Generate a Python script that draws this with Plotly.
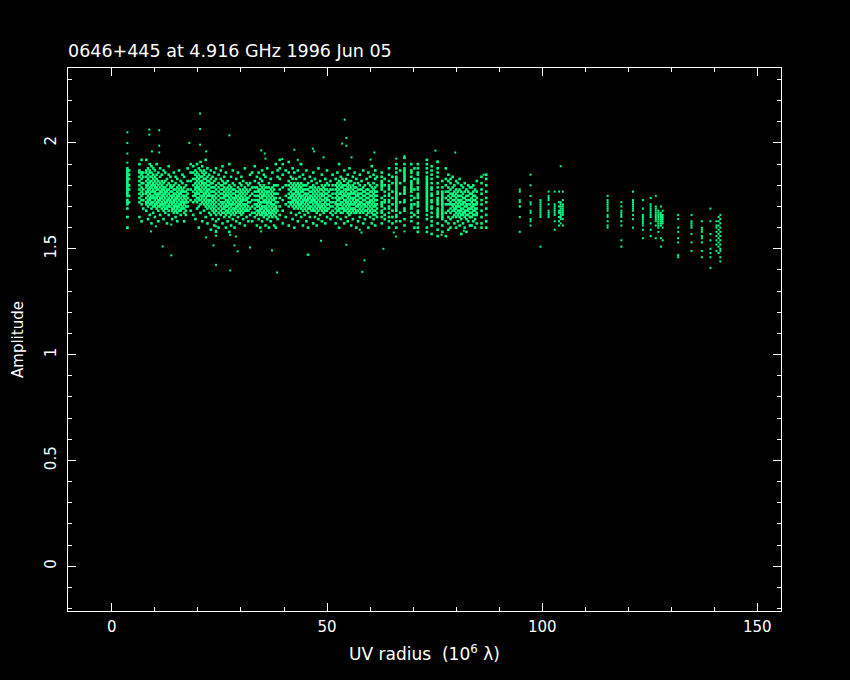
import plotly.graph_objects as go

TITLE = "0646+445 at 4.916 GHz 1996 Jun 05"
X_LABEL = "UV radius  (10<sup>6</sup> λ)"
Y_LABEL = "Amplitude"
X_TICKS = [0, 50, 100, 150]
Y_TICKS = [0, 0.5, 1, 1.5, 2]
Y_TICK_TEXT = ["0", "0.5", "1", "1.5", "2"]

# visible vertical scan tracks: UV radius of each track
uv_columns = [
 3.6,4.0,6.4,6.9,7.3,8.0,8.4,8.8,9.2,9.6,10.0,10.4,10.8,11.2,11.6,12.0,12.4,12.8,13.2,13.6,14.0,14.4,14.8,15.2,15.6,16.0,16.4,16.8,17.2,17.6,
 18.3,18.9,19.4,19.8,20.2,20.6,21.0,21.4,21.8,22.2,22.6,23.0,23.4,23.8,24.2,24.8,25.3,25.7,26.1,26.5,26.9,27.3,27.7,28.1,28.5,28.9,29.3,29.7,30.1,30.5,
 30.9,31.3,31.7,32.1,32.6,33.2,33.7,34.1,34.5,34.9,35.3,35.7,36.1,36.5,36.9,37.3,37.7,38.1,38.5,39.0,39.7,40.4,41.1,41.6,42.0,42.4,42.8,43.2,43.6,44.0,
 44.4,44.8,45.2,45.6,46.0,46.4,46.8,47.2,47.6,48.0,48.4,48.8,49.2,49.6,50.0,50.4,50.8,51.3,52.0,52.4,52.8,53.2,53.6,54.0,54.4,54.8,55.2,55.6,56.0,56.4,
 56.8,57.2,57.6,58.0,58.4,58.8,59.2,59.6,60.0,60.4,60.8,61.2,61.6,
 77.6,78.2,78.7,79.2,79.6,80.0,80.4,80.8,81.2,81.6,82.0,82.4,82.8,83.2,85.9,87.0,
 94.8,97.3,99.6,101.5,102.9,103.9,104.3,104.8,115.2,118.4,121.1,123.4,125.2,126.4,127.0,127.6,128.0,131.6,134.7,137.1,139.1,140.5,141.0,141.4,
]

# amplitude of the visible points on each track, in hundredths
amp_columns = [
 [160,165,169,171,172,173,175,176,177,178,179,180,181,182,183,184,185,186,187,188],
 [172,175,178,180,183,185,187],
 [165,172,174,176,178,180,182,184,186,187,190],
 [163,171,173,175,177,179,181,183,185,186,192],
 [169,173,176,178,181,184,186],
 [168,171,172,174,176,177,179,180,182,184,186,187,192],
 [164,170,172,173,175,177,178,180,181,183,185,188],
 [166,171,173,174,176,178,179,181,182,184,186,187,190],
 [162,169,171,172,174,175,177,179,180,182,184,186,189],
 [167,170,172,174,175,177,178,180,181,183,185,188],
 [165,170,171,173,174,176,177,179,180,182,184,187],
 [169,171,172,174,175,176,178,179,181,183,185,190],
 [163,168,170,172,173,175,176,178,180,182,186],
 [166,170,171,173,174,176,177,179,181,184,188],
 [169,171,172,174,175,177,178,180,182,185],
 [164,168,170,171,173,175,176,178,179,181,187],
 [167,169,171,172,174,176,177,179,182,186],
 [162,169,170,172,173,175,177,178,180,183],
 [166,168,170,171,173,174,176,178,181,185,189],
 [170,172,173,175,177,179,180,184],
 [164,168,169,171,172,174,175,177,179,182],
 [167,169,170,172,173,175,176,178,180,186],
 [165,168,170,171,173,174,176,178,181,184],
 [163,167,169,170,172,174,175,177,179,183],
 [168,170,171,173,175,176,178,180,187],
 [166,168,169,171,172,174,176,177,179,182],
 [169,170,172,173,175,177,178,181,185],
 [163,167,169,171,172,174,175,177,179,184],
 [166,168,170,172,173,175,177,180],
 [170,172,174,176,178,182,188],
 [168,173,178,182,186,190],
 [166,172,175,177,180,183,186,189],
 [164,173,175,176,178,179,181,183,185,187],
 [169,172,174,176,177,179,180,182,184,186,190],
 [160,170,173,174,176,178,179,181,183,185,188],
 [167,171,173,175,177,178,180,182,184,187,191],
 [163,172,174,175,177,179,181,182,184,186,189],
 [168,171,173,175,176,178,180,181,183,185,187],
 [165,170,172,174,176,177,179,181,183,186,192],
 [162,169,171,173,175,177,178,180,182,184,188],
 [167,170,172,173,175,176,178,180,182,185],
 [159,166,169,171,173,175,177,179,181,183,187],
 [164,168,170,172,174,175,177,179,181,184],
 [161,167,169,171,173,175,177,179,182,186],
 [158,163,166,168,170,172,174,176,178,180,183,188],
 [160,164,167,169,171,173,175,177,179,181,185],
 [166,168,170,172,174,176,178,180,183,187],
 [162,167,169,171,172,174,176,178,180,182,189],
 [165,167,169,170,172,174,175,177,179,181,184],
 [160,166,168,170,171,173,175,176,178,181,186],
 [163,167,168,170,172,173,175,177,179,182],
 [158,165,167,169,171,172,174,176,178,180,190],
 [161,166,168,170,171,173,175,177,179,184],
 [164,167,169,171,172,174,176,178,181,187],
 [160,166,168,169,171,173,174,176,178,180],
 [163,167,169,170,172,174,175,177,183],
 [165,168,170,171,173,175,177,179,186],
 [162,167,169,171,172,174,176,178,181],
 [166,168,170,172,173,175,177,180,184],
 [164,167,169,171,173,174,176,178,182],
 [161,168,170,171,173,175,177,179,188],
 [165,168,169,171,173,174,176,178,181],
 [163,168,170,172,174,177,180],
 [166,169,172,175,178,181,185],
 [163,167,170,173,176,179,186],
 [165,167,169,171,173,175,177,179,182,189],
 [161,166,168,170,171,173,175,177,179,184],
 [164,167,168,170,172,173,175,177,178,181,186],
 [160,166,168,169,171,172,174,176,178,180,183],
 [163,166,167,169,170,172,174,175,177,179,182,187],
 [165,167,168,170,172,173,175,176,178,180,185],
 [161,166,167,169,170,172,173,175,177,179,184],
 [164,166,168,169,171,172,174,176,177,179,188],
 [160,165,167,168,170,172,173,175,177,179,181],
 [163,166,167,169,171,172,174,176,178,183],
 [165,167,168,170,171,173,175,177,179,186],
 [161,166,168,169,171,173,174,176,178,180],
 [160,165,167,169,170,172,174,176,180,190],
 [164,168,172,176,180,184,187],
 [166,170,174,178,183,188,192],
 [162,168,173,179,185,190],
 [165,171,175,180,187],
 [161,170,172,174,176,178,180,182,186,191],
 [167,171,172,174,175,177,179,181,184],
 [164,170,172,173,175,176,178,180,183,188],
 [160,169,171,173,174,176,178,179,181,186],
 [166,170,172,173,175,177,178,180,183],
 [163,169,171,172,174,176,177,179,181,187],
 [167,170,171,173,175,176,178,180,184],
 [165,169,171,172,174,175,177,179,181,190],
 [161,168,170,172,173,175,177,178,180,185],
 [166,169,171,173,174,176,178,180,183],
 [163,168,170,172,173,175,176,178,180,187],
 [160,167,169,171,173,174,176,178,181],
 [165,169,170,172,174,175,177,179,184],
 [168,170,172,173,175,177,179,182],
 [162,168,169,171,173,174,176,178,180,186],
 [165,168,170,172,173,175,177,179,183],
 [161,167,169,171,172,174,176,178,181],
 [164,168,170,171,173,175,177,179,188],
 [166,169,170,172,174,176,178,182],
 [163,168,170,171,173,175,176,178,180,185],
 [167,169,171,173,175,177,179],
 [162,168,170,172,174,176,178,180,183],
 [165,168,169,171,173,174,176,178,181,187],
 [169,171,173,175,177,180],
 [164,167,170,172,175,178,182],
 [166,168,170,172,174,176,178,180,185],
 [162,167,169,171,172,174,176,178,180,183],
 [165,168,170,171,173,175,177,179,181,186],
 [160,168,169,171,173,174,176,178,180,182,190],
 [164,167,169,171,172,174,176,177,179,181,184],
 [167,169,170,172,174,175,177,179,180,183],
 [162,168,169,171,173,175,176,178,180,182,187],
 [165,168,170,172,173,175,177,178,180,183],
 [163,167,169,171,172,174,176,178,179,181,185],
 [166,168,170,171,173,175,176,178,180,182,188],
 [161,167,169,171,172,174,176,177,179,182],
 [164,168,169,171,173,174,176,178,180,184],
 [167,169,171,172,174,176,177,179,181,186],
 [160,167,168,170,172,173,175,177,179,183],
 [163,168,170,171,173,175,176,178,181],
 [165,167,169,171,172,174,176,178,180,185],
 [168,170,172,174,176,178,182],
 [162,167,169,171,173,175,177,179,187],
 [164,168,170,171,173,175,177,180],
 [166,168,170,172,174,176,178,183],
 [160,167,169,171,172,174,176,178,181,186],
 [165,168,170,172,173,175,177,180,184],
 [162,167,169,171,173,175,177,179,189],
 [164,166,168,170,172,174,176,178,181,185],
 [161,166,168,170,171,173,175,177,179,183,187],
 [165,167,169,171,173,175,177,180,184],
 [156,163,167,171,174,177,180,183,188],
 [159,162,165,168,171,173,175,177,179,182,185],
 [160,164,167,169,171,172,174,176,178,181,183],
 [165,168,170,171,173,175,176,179,184],
 [162,166,168,169,171,173,175,177,180],
 [160,165,167,169,170,172,174,176,178,182],
 [163,166,168,170,171,173,175,177,181],
 [161,165,167,168,170,172,173,175,178,183],
 [157,164,166,168,169,171,173,175,177,180],
 [162,166,167,169,171,172,174,176,179],
 [160,165,167,168,170,172,174,177,181],
 [158,164,166,168,170,171,173,175,178],
 [163,166,168,169,171,173,175,177,180],
 [161,165,167,169,171,173,176,179],
 [160,162,165,168,171,173,176,178,181,184],
 [160,163,166,169,172,174,177,180,183,185],
 [178,177,173,172,170,170,165,158],
 [185,180,175,172,171,168,167,164,163,161],
 [173,172,171,170,169,168,167,166,165,151],
 [177,175,174,173,171,168,167,166,165],
 [177,171,170,169,168,167,166,163,159],
 [177,172,170,168,167,165,163,161],
 [189,172,171,170,169,168,167,166,165,164,162],
 [177,173,171,170,169,168,167,166,164,161],
 [175,173,172,171,170,169,168,166,165,163,161,160],
 [172,170,168,167,166,165,163,161,154,151],
 [177,173,172,171,170,169,168,166,164,160],
 [173,169,166,165,164,163,162,161,159,155],
 [174,171,170,169,168,167,166,165,162,159,156],
 [175,170,169,168,167,166,165,164,163,161,155],
 [168,167,166,165,164,163,162,161,160,158],
 [170,167,166,165,164,163,162,161,155,151],
 [168,166,165,164,163,162,160,154],
 [166,164,160,158,155,153,147,146],
 [166,163,162,161,160,157,153,149],
 [163,160,159,158,156,155,153,149,146],
 [169,163,157,154,150,148,146,141],
 [163,161,160,158,156,154,152,149],
 [165,163,161,159,157,155,153,151,148],
 [166,164,162,160,158,156,154,152,150,149,146,144],
]

# long vertical streaks between 62 and 77, and the tail of the dense band near 84
uv_extra = [62.7,63.4,64.4,65.2,66.1,67.0,68.0,69.6,70.3,71.1,73.2,74.3,75.7,76.8,83.6,84.0,84.4,84.8]
amp_extra = [
 [162,165,167,168,170,171,172,174,178,179,180,181,182,184,186],
 [164,166,169,172,173,175,177,180,183],
 [160,163,165,167,169,170,172,173,175,176,178,179,180,182,185,188],
 [162,165,168,171,174,177,181,184],
 [160,163,165,166,168,169,170,171,172,173,174,175,176,177,178,179,180,181,182,183,184,186,188,190],
 [163,167,172,176,181,187],
 [161,164,168,169,172,173,176,177,178,179,182,183,184,185,186,187,188,190,193],
 [163,165,167,169,170,171,173,175,177,178,179,180,181,182,184,186,187,190],
 [160,166,171,174,178,183,188],
 [158,160,162,165,167,168,170,171,172,174,175,176,178,179,181,182,183,185,186,188,190],
 [158,160,164,166,168,169,170,171,172,173,174,175,176,177,178,179,180,181,182,183,184,186,188,190,192],
 [157,161,163,165,167,169,170,172,173,175,176,178,179,181,183,185,187,189],
 [156,159,162,165,166,167,168,169,171,172,173,174,176,177,179,181,184,186,188,191],
 [158,161,164,165,166,167,168,169,170,171,172,173,174,175,176,177,179,182],
 [161,165,167,169,170,172,174,176,179],
 [163,166,168,170,171,173,175,177,180],
 [160,164,166,168,169,171,173,175,178],
 [162,166,167,169,171,172,174,177,182],
]

# isolated points standing clear of the tracks
outlier_uv = [20.5,20.5,20.5,8.7,8.7,11.0,18.0,11.0,11.0,9.3,27.3,21.9,34.7,35.5,42.4,35.7,39.6,43.2,43.8,
              11.8,13.8,9.1,10.2,13.8,24.2,27.5,23.6,21.9,28.5,29.2,32.1,37.2,38.4,45.7,27.5,28.8,24.2,24.2,24.2,34.7,
              54.1,54.5,53.5,54.5,46.7,47.0,49.2,55.7,61.0,60.1,66.1,68.0,75.2,79.8,75.7,86.4,
              45.5,48.6,54.5,63.1,58.7,58.2,57.6,58.0,65.5,66.0,68.0,76.6,81.8,3.6,3.6,3.6,3.6,3.6,3.6]
outlier_amp = [2.139,2.066,1.992,2.063,2.039,2.06,2.0,1.987,1.955,1.96,2.036,1.96,1.965,1.95,1.968,1.926,1.924,1.92,1.9,
               1.511,1.469,1.582,1.606,1.614,1.424,1.398,1.516,1.554,1.516,1.488,1.506,1.492,1.388,1.472,1.566,1.558,1.606,1.585,1.562,1.582,
               2.11,2.023,1.997,1.987,1.973,1.96,1.932,1.932,1.955,1.921,1.926,1.937,1.964,1.955,1.913,1.85,
               1.472,1.538,1.519,1.50,1.445,1.391,1.59,1.577,1.577,1.558,1.582,1.566,1.585,2.05,2.0,1.95,1.907,1.65,1.60]

assert len(uv_columns) == len(amp_columns), (len(uv_columns), len(amp_columns))
assert len(uv_extra) == len(amp_extra), (len(uv_extra), len(amp_extra))
assert len(outlier_uv) == len(outlier_amp)

xs, ys = [], []
for uv, amps in zip(uv_columns + uv_extra, amp_columns + amp_extra):
    for a in amps:
        xs.append(uv)
        ys.append(a / 100)

GREEN = "#00ff80"
fig = go.Figure()
fig.add_trace(go.Scatter(
    x=xs, y=ys, mode="markers",
    marker=dict(symbol="square", size=[2.6 if x < 90 else 2 for x in xs], color=GREEN,
                opacity=1, line=dict(width=0)),
    hoverinfo="skip", showlegend=False,
))
fig.add_trace(go.Scatter(
    x=outlier_uv, y=outlier_amp, mode="markers",
    marker=dict(symbol="square", size=2, color=GREEN, opacity=1, line=dict(width=0)),
    hoverinfo="skip", showlegend=False,
))

FONT = dict(family="DejaVu Sans", size=15, color="white")
axis_common = dict(
    showgrid=False, zeroline=False, showline=True, linecolor="white", linewidth=1,
    mirror="ticks", ticks="inside", tickcolor="white", tickwidth=1, ticklen=8,
    tickfont=FONT, automargin=False,
)
fig.update_layout(
    width=850, height=680, autosize=False,
    paper_bgcolor="black", plot_bgcolor="black",
    margin=dict(l=68, r=69, t=68, b=69),
    font=FONT,
    title=dict(text=TITLE, x=68/850, xanchor="left", y=1-51/680, yanchor="middle",
               automargin=False, font=dict(family="DejaVu Sans", size=17.5, color="white")),
    xaxis=dict(range=[-10.2, 155.5], tickvals=X_TICKS, ticktext=[str(v) for v in X_TICKS],
               minor=dict(ticks="inside", ticklen=4, dtick=10, tick0=0, tickcolor="white", tickwidth=1, showgrid=False),
               title=dict(text=X_LABEL, standoff=13, font=dict(family="DejaVu Sans", size=17, color="white")),
               ticklabelstandoff=2, **axis_common),
    yaxis=dict(range=[-0.211, 2.354], tickvals=Y_TICKS, ticktext=Y_TICK_TEXT, tickangle=-90,
               minor=dict(ticks="inside", ticklen=4, dtick=0.1, tick0=0, tickcolor="white", tickwidth=1, showgrid=False),
               title=dict(text=Y_LABEL, standoff=14, font=FONT), ticklabelstandoff=5, **axis_common),
)
fig.write_html("out.html", config=dict(displayModeBar=False),
               post_script="document.body.style.margin='0';document.body.style.background='black';")
